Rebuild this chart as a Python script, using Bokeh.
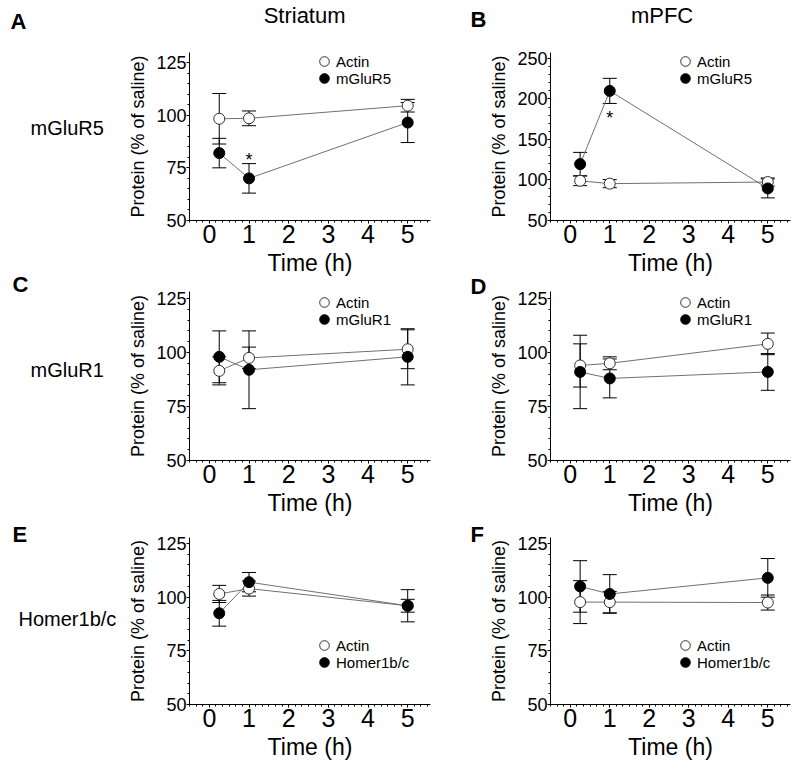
from bokeh.plotting import figure
from bokeh.models import (Range1d, Whisker, ColumnDataSource, TeeHead, Legend,
                          LegendItem, SingleIntervalTicker)
from bokeh.layouts import column, row
from bokeh.embed import file_html
from bokeh.resources import INLINE
from bokeh.core.properties import value

FONT = "Liberation Sans"

# ---------------- data ----------------
time_h = [0.25, 1, 5]

col_titles = ["Striatum", "mPFC"]
row_titles = ["mGluR5", "mGluR1", "Homer1b/c"]
panel_letters = ["A", "B", "C", "D", "E", "F"]
target_names = ["mGluR5", "mGluR5", "mGluR1", "mGluR1", "Homer1b/c", "Homer1b/c"]

a_actin = [98.3, 98.5, 104.5]
a_actin_err = [12, 3.5, 3]
a_target = [82, 70, 96.5]
a_target_err = [7, 7, 9.5]

b_actin = [99, 95.5, 97.5]
b_actin_err = [6, 5, 5]
b_target = [119.6, 210, 89.6]
b_target_err = [14.5, 15.5, 11.7]

c_actin = [91.5, 97.5, 101.5]
c_actin_err = [6.5, 5, 9]
c_target = [98, 92, 98]
c_target_err = [12, 18, 13]

d_actin = [94, 95, 104]
d_actin_err = [10, 3, 5]
d_target = [91, 88, 91]
d_target_err = [17, 9, 8.5]

e_actin = [101.5, 104, 96]
e_actin_err = [4, 3.5, 3]
e_target = [92.5, 107, 96]
e_target_err = [6, 4.5, 7.5]

f_actin = [97.7, 97.7, 97.5]
f_actin_err = [10, 5, 3.5]
f_target = [105, 101.5, 109]
f_target_err = [12, 9, 9]

# significance markers (time, value)
a_sig_x = [1]
a_sig_y = [78.5]
b_sig_x = [1]
b_sig_y = [176]


def make_panel(width, height, bl, br, bt, bb, y_end, y_int, actin, actin_err, target,
               target_err, tname, leg_actin, leg_target):
    p = figure(width=width, height=height, x_range=Range1d(-0.5, 5.575),
               y_range=Range1d(50, y_end), output_backend="svg", toolbar_location=None,
               min_border_left=bl, min_border_right=br, min_border_top=bt,
               min_border_bottom=bb)
    p.outline_line_color = None
    p.xgrid.visible = False
    p.ygrid.visible = False
    p.background_fill_color = "white"
    p.border_fill_color = "white"

    p.xaxis.ticker = SingleIntervalTicker(interval=1, num_minor_ticks=6)
    p.yaxis.ticker = SingleIntervalTicker(interval=y_int, num_minor_ticks=5)
    for ax in (p.xaxis, p.yaxis):
        ax.axis_line_color = "black"
        ax.axis_line_width = 1
        ax.major_tick_line_color = "black"
        ax.minor_tick_line_color = "black"
        ax.major_tick_in = 0
        ax.major_tick_out = 3
        ax.minor_tick_in = 0
        ax.minor_tick_out = 2
        ax.major_label_text_font = FONT
        ax.axis_label_text_font = FONT
        ax.axis_label_text_font_style = "normal"
        ax.major_label_text_color = "black"
        ax.axis_label_text_color = "black"
    p.xaxis.major_label_text_font_size = "25px"
    p.yaxis.major_label_text_font_size = "18px"
    p.xaxis.axis_label = "Time (h)"
    p.xaxis.axis_label_text_font_size = "23px"
    p.xaxis.axis_label_standoff = 4
    p.xaxis.major_label_standoff = 1
    p.yaxis.axis_label = "Protein (% of saline)"
    p.yaxis.axis_label_text_font_size = "18px"
    p.yaxis.axis_label_standoff = 5
    p.yaxis.major_label_standoff = 0

    src_a = ColumnDataSource(dict(x=time_h, y=actin,
                                  lo=[v - e for v, e in zip(actin, actin_err)],
                                  hi=[v + e for v, e in zip(actin, actin_err)]))
    src_t = ColumnDataSource(dict(x=time_h, y=target,
                                  lo=[v - e for v, e in zip(target, target_err)],
                                  hi=[v + e for v, e in zip(target, target_err)]))

    p.line("x", "y", source=src_a, line_color="#707070", line_width=1)
    p.line("x", "y", source=src_t, line_color="#707070", line_width=1)
    for src in (src_a, src_t):
        w = Whisker(base="x", lower="lo", upper="hi", source=src, dimension="height",
                    line_color="black", line_width=1,
                    upper_head=TeeHead(size=14, line_color="black", line_width=1),
                    lower_head=TeeHead(size=14, line_color="black", line_width=1))
        p.add_layout(w)
    ra = p.scatter("x", "y", source=src_a, size=11, fill_color="white",
                   line_color="#303030", line_width=1)
    rt = p.scatter("x", "y", source=src_t, size=11, fill_color="black",
                   line_color="black", line_width=1)

    for lab, rend, loc in (("Actin", ra, leg_actin), (tname, rt, leg_target)):
        leg = Legend(items=[LegendItem(label=lab, renderers=[rend])],
                     location=loc, glyph_width=24, glyph_height=26, spacing=0,
                     label_standoff=0, padding=0, margin=0, border_line_color=None,
                     background_fill_alpha=0, label_text_font=FONT,
                     label_text_font_size="15px", label_text_color="black",
                     label_height=26)
        p.add_layout(leg, "center")
    return p


def add_sig(p, xs, ys):
    p.text(x=xs, y=ys, text=["*"] * len(xs), text_font=value(FONT),
           text_font_size="18px", text_align="center", text_baseline="middle",
           text_color="black")


def text_strip(width, height):
    """A blank figure whose frame is the whole canvas, in pixel-like coordinates."""
    p = figure(width=width, height=height, x_range=Range1d(0, width),
               y_range=Range1d(height, 0), x_axis_type=None, y_axis_type=None,
               output_backend="svg", toolbar_location=None, min_border=0)
    p.outline_line_color = None
    p.xgrid.visible = False
    p.ygrid.visible = False
    return p


def put_text(p, x, y, txt, size, bold=False, align="left"):
    p.text(x=[x], y=[y], text=[txt], text_font=value(FONT), text_font_size=size,
           text_font_style="bold" if bold else "normal", text_align=align,
           text_baseline="middle", text_color="black")


H_TOTAL = 770
# left strip: panel letters A/C/E and row titles
left_strip = text_strip(125, H_TOTAL)
put_text(left_strip, 10, 21, panel_letters[0], "22px", bold=True)
put_text(left_strip, 12, 283.5, panel_letters[2], "22px", bold=True)
put_text(left_strip, 12, 533.5, panel_letters[4], "22px", bold=True)
put_text(left_strip, 30, 127, row_titles[0], "20px")
put_text(left_strip, 30, 369, row_titles[1], "20px")
put_text(left_strip, 18, 618, row_titles[2], "20px")

# middle strip: letters B/D/F
mid_strip = text_strip(49, H_TOTAL)
put_text(mid_strip, 33, 18.5, panel_letters[1], "22px", bold=True)
put_text(mid_strip, 33, 285.5, panel_letters[3], "22px", bold=True)
put_text(mid_strip, 33, 533.5, panel_letters[5], "22px", bold=True)

LW, RW = 312, 312
title_a = text_strip(LW, 40)
put_text(title_a, 149, 14.5, col_titles[0], "22px", align="center")
title_b = text_strip(RW, 40)
put_text(title_b, 145, 14.5, col_titles[1], "22px", align="center")

pA = make_panel(LW, 246, 62, 7, 12, 66, 129.75, 25, a_actin, a_actin_err, a_target,
                a_target_err, target_names[0], (123, 146), (123, 129))
pC = make_panel(LW, 238, 62, 7, 5, 64, 128.24, 25, c_actin, c_actin_err, c_target,
                c_target_err, target_names[2], (123, 145), (123, 128))
pE = make_panel(LW, 246, 62, 7, 13, 66, 127.8, 25, e_actin, e_actin_err, e_target,
                e_target_err, target_names[4], (123, 46), (123, 29))

pB = make_panel(RW, 246, 61, 8, 12, 66, 257.4, 50, b_actin, b_actin_err, b_target,
                b_target_err, target_names[1], (123, 146), (123, 129))
pD = make_panel(RW, 238, 61, 8, 5, 64, 128.24, 25, d_actin, d_actin_err, d_target,
                d_target_err, target_names[3], (123, 145), (123, 128))
pF = make_panel(RW, 246, 61, 8, 13, 66, 127.8, 25, f_actin, f_actin_err, f_target,
                f_target_err, target_names[5], (123, 46), (123, 29))

add_sig(pA, a_sig_x, a_sig_y)
add_sig(pB, b_sig_x, b_sig_y)

layout = row(left_strip,
             column(title_a, pA, pC, pE),
             mid_strip,
             column(title_b, pB, pD, pF))
open("out.html", "w").write(file_html(layout, INLINE))
